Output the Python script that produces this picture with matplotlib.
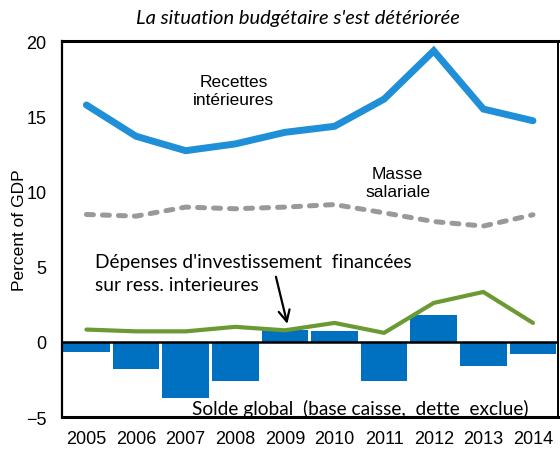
import matplotlib
matplotlib.use('Agg')
import matplotlib.pyplot as plt
import numpy as np

# == data (percent of GDP)
years = ['2005', '2006', '2007', '2008', '2009', '2010', '2011', '2012', '2013', '2014']
recettes = [15.75, 13.67, 12.71, 13.16, 13.93, 14.33, 16.14, 19.35, 15.48, 14.7]
masse_sal = [8.47, 8.36, 8.96, 8.85, 8.96, 9.13, 8.58, 8.0, 7.7, 8.45]
invest = [0.82, 0.7, 0.7, 1.0, 0.77, 1.26, 0.6, 2.59, 3.32, 1.26]
solde = [-0.66, -1.82, -3.7, -2.6, 0.77, 0.73, -2.6, 1.81, -1.6, -0.78]

arial = 'Liberation Sans'
calibri = 'Lato'

fig = plt.figure(figsize=(5.6, 4.52), dpi=100)
ax = fig.add_axes([0.11, 0.075, 0.886, 0.832])
x = np.arange(len(years))

#bars for the overall balance
ax.bar(x, solde, width=0.94, color='#0070c0', zorder=1)
ax.axhline(0, color='black', lw=1.8, zorder=2)
#lines
ax.plot(x, recettes, color='#1f8fd8', lw=5, solid_capstyle='round', solid_joinstyle='miter', zorder=3)
ax.plot(x, masse_sal, color='#999999', lw=3.6, linestyle=(0, (1.4, 1.8)),
        dash_capstyle='round', zorder=3)
ax.plot(x, invest, color='#6b9a33', lw=3, solid_capstyle='round', zorder=3)

ax.set_xlim(-0.5, 9.5)
ax.set_ylim(-5, 20)
ax.set_yticks([-5, 0, 5, 10, 15, 20])
ax.set_xticks(x)
ax.set_xticklabels(years)
for lab in ax.get_xticklabels() + ax.get_yticklabels():
    lab.set_fontfamily(arial)
    lab.set_fontsize(13)
ax.tick_params(axis='y', length=0, pad=11)
ax.tick_params(axis='x', length=0, pad=9)
ax.set_ylabel('Percent of GDP', fontfamily=arial, fontsize=12.5)
ax.yaxis.set_label_coords(-0.07, 0.5)

ax.spines['top'].set_linewidth(2.2)
ax.spines['bottom'].set_linewidth(2.2)
ax.spines['left'].set_linewidth(1.6)
ax.spines['right'].set_linewidth(1.4)

#annotations
ax.text(2.97, 16.7, 'Recettes\nintérieures', ha='center', va='center',
        fontfamily=arial, fontsize=12.5, linespacing=1.25)
ax.text(6.27, 10.6, 'Masse\nsalariale', ha='center', va='center',
        fontfamily=arial, fontsize=12.5, linespacing=1.25)
ax.text(0.17, 4.58, "Dépenses d'investissement  financées\nsur ress. interieures",
        ha='left', va='center', fontfamily=calibri, fontsize=13.8, linespacing=1.4)
ax.text(5.51, -4.36, 'Solde global  (base caisse,  dette  exclue)', ha='center', va='center',
        fontfamily=calibri, fontsize=13.8)
ax.annotate('', xy=(4.05, 1.2), xytext=(3.82, 4.33),
            arrowprops=dict(arrowstyle='->', color='black', lw=1.6, mutation_scale=20,
                            shrinkA=0, shrinkB=0))

fig.text(0.532, 0.96, "La situation budgétaire s'est détériorée", ha='center', va='center',
         fontfamily=calibri, fontstyle='italic', fontsize=14.5)

plt.savefig('out.png', dpi=100)
